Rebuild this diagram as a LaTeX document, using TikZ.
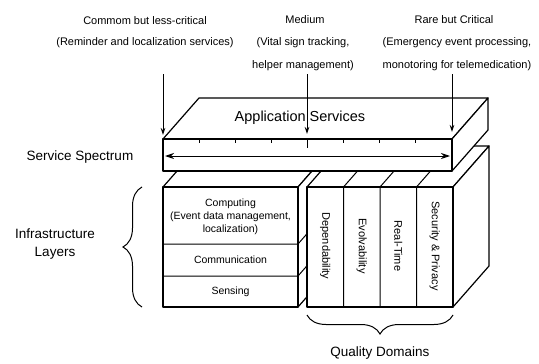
\documentclass[tikz,border=0pt]{standalone}
\usepackage{fontspec}
\setmainfont{Liberation Sans}
\usepackage{tikz}
\usetikzlibrary{calc,arrows.meta,decorations.pathreplacing}
\tikzset{
  face/.style={draw=black, fill=white, line width=1.2pt, line join=round},
  thinline/.style={draw=black, line width=1pt},
  feed/.style={draw=black, line width=1pt, -{Stealth[length=7pt,width=4.5pt]}},
  span/.style={draw=black, line width=1pt, {Stealth[length=9pt,width=6pt]}-{Stealth[length=9pt,width=6pt]}},
  brc/.style={draw=black, line width=1pt, decorate, decoration={brace, amplitude=19pt, aspect=0.5}},
  toplab/.style={font=\fontsize{11}{23}\selectfont, align=center, inner sep=0pt},
  sidelab/.style={font=\fontsize{13.5}{18}\selectfont, align=center, inner sep=0pt},
  boxlab/.style={font=\fontsize{10.5}{13}\selectfont, align=center, inner sep=0pt},
  qlab/.style={font=\fontsize{11}{13}\selectfont, rotate=-90, inner sep=0pt},
}

\begin{document}
\begin{tikzpicture}[x=1pt,y=-1pt]
  \useasboundingbox (0,0) rectangle (539,364);
  % infrastructure stack
  \draw[face] (163,187)--(199,146)--(334,146)--(298,187)--cycle;
  \draw[face] (298,187)--(334,146)--(334,266)--(298,307)--cycle;
  \draw[face] (163,187) rectangle (298,307);
  \draw[thinline] (163,244)--(298,244)--(334,203);
  \draw[thinline] (163,276)--(298,276)--(334,235);
  \node[boxlab] (computing) at (230.5,217) {Computing\\(Event data management,\\localization)};
  \node[boxlab] (comm) at (230.5,260) {Communication};
  \node[boxlab] (sensing) at (230.5,292) {Sensing};
  % quality block
  \draw[face] (307,187)--(343,146)--(489,146)--(453,187)--cycle;
  \draw[face] (453,187)--(489,146)--(489,266)--(453,307)--cycle;
  \draw[face] (307,187) rectangle (453,307);
  \foreach \x in {343.5,380,416.5}
    \draw[thinline] (\x,307)--(\x,187)--($(\x,187)+(36,-41)$);
  \node[qlab] (dep) at (325.25,246) {Dependability};
  \node[qlab] (evo) at (361.75,246) {Evolvability};
  \node[qlab] (rt) at (398.25,246) {Real-Time};
  \node[qlab] (sec) at (434.75,246) {Security \& Privacy};
  % service slab
  \draw[face] (163,139)--(199,98)--(488,98)--(452,139)--cycle;
  \draw[face] (452,139)--(488,98)--(488,130)--(452,171)--cycle;
  \draw[face] (163,139) rectangle (452,171);
  \foreach \k in {1,2,3,5,6,7}
    \draw[thinline] ($(163,139)+(36.125*\k,0)$)--++(0,4);
  \draw[thinline] (307,139)--(307,148);
  \coordinate (specL) at (165,156);
  \coordinate (specR) at (450,156);
  \draw[span] (specL)--(specR);
  \node[font=\fontsize{14.5}{16}\selectfont, inner sep=0pt] (appsrv) at (300,118) {Application Services};
  % demand labels
  \node[toplab] (common) at (145,21) {Commom but less-critical};
  \node[toplab] (commondesc) at (145,43) {(Reminder and localization services)};
  \node[toplab] (medium) at (305,20) {Medium};
  \node[toplab] (mediumdesc) at (303,54.5) {(Vital sign tracking,\\helper management)};
  \node[toplab] (rare) at (454,20) {Rare but Critical};
  \node[toplab] (raredesc) at (457,54.5) {(Emergency event processing,\\monotoring for telemedication)};
  \coordinate (lowtop) at (163,74);
  \coordinate (lowhit) at (163,135);
  \coordinate (medtop) at (307,74);
  \coordinate (medhit) at (307,134);
  \coordinate (hightop) at (452,74);
  \coordinate (highhit) at (452,132);
  \draw[feed] (lowtop)--(lowhit);
  \draw[feed] (medtop)--(medhit);
  \draw[feed] (hightop)--(highhit);
  % side labels and braces
  \node[sidelab] (spectrum) at (80,157) {Service Spectrum};
  \node[sidelab] (infra) at (55,244) {Infrastructure\\Layers};
  \draw[brc] (142,307)--(142,187);
  \draw[brc] (453,315)--(307,315);
  \node[sidelab] (quality) at (380,353) {Quality Domains};
\end{tikzpicture}
\end{document}
